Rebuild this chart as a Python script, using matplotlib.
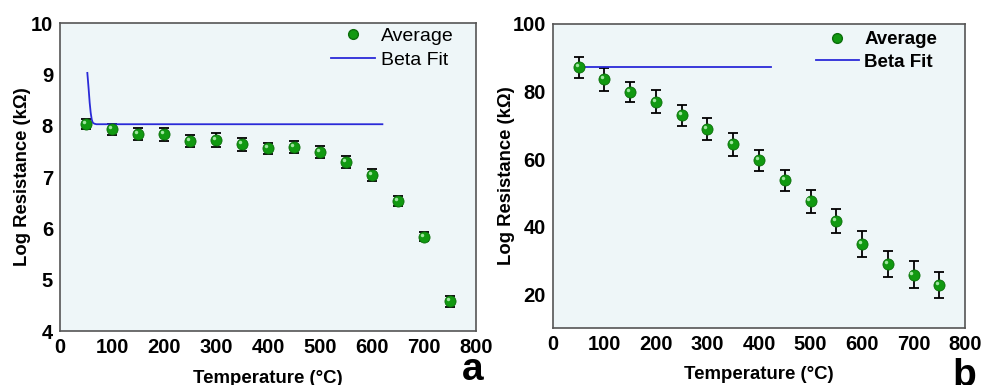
import matplotlib
matplotlib.use("Agg")
import matplotlib.pyplot as plt
import matplotlib.transforms as mtransforms
from matplotlib.lines import Line2D

plt.rcParams["font.family"] = ["Liberation Sans", "DejaVu Sans"]

# ---- data -----------------------------------------------------------------
temp = [50, 100, 150, 200, 250, 300, 350, 400, 450, 500, 550, 600, 650, 700, 750]

res_a = [8.03, 7.93, 7.84, 7.83, 7.70, 7.72, 7.64, 7.56, 7.58, 7.49, 7.30, 7.04, 6.53, 5.84, 4.58]
err_a = [0.10, 0.11, 0.11, 0.12, 0.12, 0.13, 0.13, 0.11, 0.12, 0.12, 0.12, 0.12, 0.10, 0.09, 0.11]
fit_a_x = [52.5, 55, 57, 59, 61, 63, 66, 70, 620]
fit_a_y = [9.03, 8.72, 8.45, 8.25, 8.12, 8.06, 8.04, 8.03, 8.03]

res_b = [87.1, 83.6, 79.9, 77.0, 72.9, 68.9, 64.4, 59.6, 53.7, 47.5, 41.7, 34.9, 29.0, 25.8, 22.7]
err_b = [3.0, 3.4, 3.0, 3.3, 3.1, 3.3, 3.4, 3.2, 3.1, 3.4, 3.6, 3.8, 3.8, 3.9, 3.8]
fit_b_x = [50, 424]
fit_b_y = [87.2, 87.2]

BG = "#eef6f8"
GREEN = "#119911"
BLUE = "#2a2ad8"


def panel(fig, rect, y, yerr, fx, fy, ylim, yticks, letter, bold_legend, leg_anchor,
          leg_size, ylab_pad, letter_xy):
    ax = fig.add_axes(rect)
    ax.set_facecolor(BG)
    ax.errorbar(temp, y, yerr=yerr, fmt="none", ecolor="black", elinewidth=1.3,
                capsize=3.5, capthick=1.3, zorder=2)
    ax.plot(fx, fy, color=BLUE, lw=1.3, zorder=3)
    ax.plot(temp, y, "o", ms=8, color=GREEN, mec="#0b6e0b", mew=0.6, zorder=4)
    # small highlight on the spheres
    off = mtransforms.offset_copy(ax.transData, fig=fig, x=-1.5, y=1.5, units="points")
    ax.plot(temp, y, "o", ms=2.5, color="#9fe59f", mew=0, transform=off, zorder=5)

    ax.set_xlim(0, 800)
    ax.set_ylim(*ylim)
    ax.set_xticks(range(0, 801, 100))
    ax.set_yticks(yticks)
    ax.tick_params(length=0, pad=5, labelsize=14.5)
    for lab in ax.get_xticklabels() + ax.get_yticklabels():
        lab.set_fontweight("bold")
    for s in ax.spines.values():
        s.set_color("#555555")
        s.set_linewidth(1.2)
    ax.set_xlabel("Temperature (°C)", fontsize=13.4, fontweight="bold", labelpad=9)
    ax.set_ylabel("Log Resistance (kΩ)", fontsize=13.3, fontweight="bold",
                  labelpad=ylab_pad)

    handles = [Line2D([], [], ls="none", marker="o", ms=7, color=GREEN, mec="#0b6e0b"),
               Line2D([], [], color=BLUE, lw=1.3)]
    ax.legend(handles, ["Average", "Beta Fit"], loc="upper right",
              bbox_to_anchor=leg_anchor, frameon=False, handlelength=2.3,
              handletextpad=0.3, labelspacing=0.3, borderaxespad=0.2,
              prop={"size": leg_size, "weight": "bold" if bold_legend else "normal"})
    fig.text(letter_xy[0], letter_xy[1], letter, fontsize=28,
             fontweight="bold", ha="center", va="baseline")
    return ax


fig = plt.figure(figsize=(9.81, 3.85), dpi=100)
panel(fig, [0.0612, 0.140, 0.424, 0.800], res_a, err_a, fit_a_x, fit_a_y,
      (4, 10), range(4, 11), "a", False, (0.975, 1.023), 14, 0, (0.482, 0.013))
panel(fig, [0.5637, 0.148, 0.420, 0.790], res_b, err_b, fit_b_x, fit_b_y,
      (10, 100), range(20, 101, 20), "b", True, (0.96, 1.013), 13.5, -2, (0.983, -0.003))

fig.savefig("out.png", dpi=100)
